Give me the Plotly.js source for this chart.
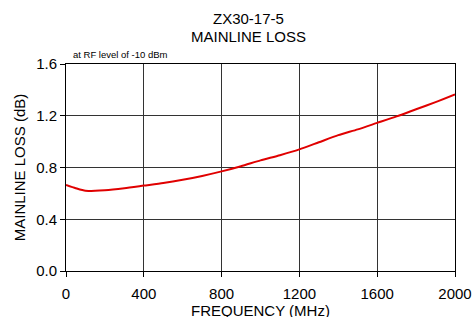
<!DOCTYPE html>
<html><head><meta charset="utf-8">
<script src="https://cdn.plot.ly/plotly-3.0.1.min.js"></script>
<style>html,body{margin:0;padding:0;background:#fff}#c{width:472px;height:317px}</style>
</head><body><div id="c"></div>
<script>
const freq = [0,50,100,200,300,400,500,600,700,800,900,1000,1100,1200,1300,1400,1500,1600,1700,1800,1900,2000];
const loss = [0.665,0.64,0.62,0.625,0.64,0.66,0.68,0.705,0.735,0.77,0.81,0.855,0.895,0.94,0.995,1.05,1.095,1.145,1.195,1.25,1.305,1.365];
const xTicks = [0,400,800,1200,1600,2000];
const yTicks = [0,0.4,0.8,1.2,1.6];
const yTickText = ['0.0','0.4','0.8','1.2','1.6'];
const font = 'Arial, "Liberation Sans", sans-serif';
Plotly.newPlot('c', [{
  x: freq, y: loss, type: 'scatter', mode: 'lines',
  line: {color: '#e00000', width: 2, shape: 'spline', smoothing: 0.6}
}], {
  width: 472, height: 317,
  margin: {l: 66, r: 17, t: 64, b: 46},
  paper_bgcolor: '#fff', plot_bgcolor: '#fff',
  showlegend: false,
  font: {family: font, color: '#000', size: 15},
  xaxis: {range: [0, 2000], tickvals: xTicks, ticks: 'outside', ticklen: 5, tickcolor: '#000',
    ticklabelstandoff: 4,
    showgrid: true, gridcolor: '#333', gridwidth: 1, showline: true, linecolor: '#000', mirror: true,
    zeroline: false, tickfont: {size: 15}},
  yaxis: {range: [0, 1.6], tickvals: yTicks, ticktext: yTickText, ticks: 'outside', ticklen: 5, tickcolor: '#000',
    showgrid: true, gridcolor: '#333', gridwidth: 1, showline: true, linecolor: '#000', mirror: true,
    zeroline: false, tickfont: {size: 15}, title: {text: 'MAINLINE LOSS (dB)', font: {size: 15}, standoff: 6}},
  annotations: [
    {text: 'ZX30-17-5', xref: 'paper', yref: 'paper', x: 0.468, y: 1, yshift: 46,
     xanchor: 'center', yanchor: 'middle', showarrow: false, font: {size: 15}},
    {text: 'MAINLINE LOSS', xref: 'paper', yref: 'paper', x: 0.468, y: 1, yshift: 28,
     xanchor: 'center', yanchor: 'middle', showarrow: false, font: {size: 15}},
    {text: 'at RF level of -10 dBm', xref: 'paper', yref: 'paper', x: 0.012, y: 1, yshift: 2,
     xanchor: 'left', yanchor: 'bottom', showarrow: false, font: {size: 9.5}},
    {text: 'FREQUENCY (MHz)', xref: 'paper', yref: 'paper', x: 0.5, y: 0, yshift: -39,
     xanchor: 'center', yanchor: 'middle', showarrow: false, font: {size: 15}}
  ]
}, {displayModeBar: false, staticPlot: true});
</script></body></html>
